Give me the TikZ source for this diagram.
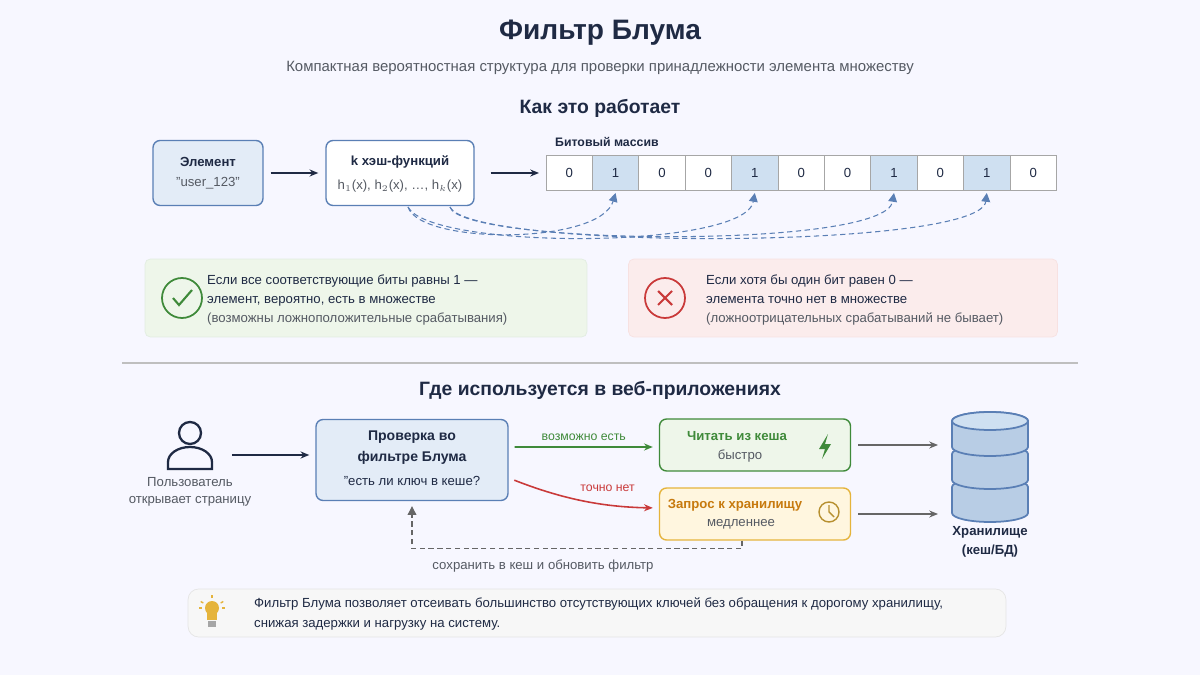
\documentclass[tikz,border=0pt]{standalone}
\usepackage{fontspec}
\setmainfont{Liberation Sans}
\usetikzlibrary{calc,positioning,arrows.meta}
\definecolor{navy}{HTML}{1F2A44}
\definecolor{boxblue}{HTML}{E3ECF7}
\definecolor{edgeblue}{HTML}{5A7FB5}
\definecolor{bitblue}{HTML}{CFE0F1}
\definecolor{okgreen}{HTML}{3F8A3A}
\definecolor{okfill}{HTML}{EEF6EA}
\definecolor{badred}{HTML}{C93A3A}
\definecolor{badfill}{HTML}{FBECEC}
\definecolor{warnfill}{HTML}{FFF6DF}
\definecolor{warnedge}{HTML}{E5B43C}
\definecolor{warntext}{HTML}{C77A0E}
\definecolor{txtgray}{HTML}{555A63}
\tikzset{
  box/.style={draw=edgeblue,rounded corners=4pt,line width=0.8pt,align=center,text=navy},
  txt/.style={font=\fontsize{7.5}{9}\selectfont,text=navy},
  head/.style={font=\bfseries\fontsize{11}{13}\selectfont,text=navy},
  flow/.style={-{Stealth[length=5pt,width=4pt]},line width=0.9pt},
  hashline/.style={densely dashed,edgeblue,line width=0.6pt,-{Triangle[length=5pt,width=5pt]}},
}
\begin{document}
\begin{tikzpicture}[x=0.02cm,y=-0.02cm]
\fill[white!97!blue] (0,0) rectangle (1200,675);

% Titles
\node[font=\bfseries\fontsize{16}{18}\selectfont,text=navy] (title) at (600,33) {Фильтр Блума};
\node[font=\fontsize{8.5}{10}\selectfont,text=txtgray] (subtitle) at (600,68) {Компактная вероятностная структура для проверки принадлежности элемента множеству};
\node[head] (how) at (600,108) {Как это работает};

% Element and hash functions
\node[box,fill=boxblue,minimum width=2.2cm,minimum height=1.3cm] (elem) at (208,173) {};
\node[txt,font=\bfseries\fontsize{7.5}{9}\selectfont] at (208,162) {Элемент};
\node[txt,text=txtgray] at (208,183) {"user\_123"};
\node[box,fill=white,minimum width=2.96cm,minimum height=1.3cm] (hash) at (400,173) {};
\node[txt,font=\bfseries\fontsize{7.5}{9}\selectfont] at (400,162) {k хэш-функций};
\node[txt,text=txtgray] at (400,186) {h$_1$(x), h$_2$(x), \dots, h$_k$(x)};
\draw[flow,navy,shorten <=0.14cm,shorten >=0.14cm] (elem) -- (hash);

% Bit array
\node[txt,font=\bfseries\fontsize{7}{9}\selectfont,anchor=west] (bitlabel) at (549,142) {Битовый массив};
\foreach \b [count=\i from 0] in {0,1,0,0,1,0,0,1,0,1,0} {
  \ifnum\b=1 \def\bf{bitblue}\else\def\bf{white}\fi
  \node[draw=gray!70,fill=\bf,minimum width=0.928cm,minimum height=0.7cm,inner sep=0,txt,outer sep=0]
    (bit\i) at ({546+46.4*(\i+0.5)},173) {\b};
}
\draw[flow,navy,shorten <=0.32cm,shorten >=0.14cm] (hash) -- (bit0.west);
\coordinate (hA) at (408,207);
\coordinate (hB) at (450,207);
\draw[hashline] (hA) .. controls (420,245) and (600,245) .. ([yshift=-0.05cm]bit1.south);
\draw[hashline] (hA) .. controls (430,250) and (745,250) .. ([yshift=-0.05cm]bit4.south);
\draw[hashline] (hB) .. controls (460,245) and (885,250) .. ([yshift=-0.05cm]bit7.south);
\draw[hashline] (hB) .. controls (470,250) and (980,250) .. ([yshift=-0.05cm]bit9.south);

% Outcome panels
\node[fill=okfill,draw=okgreen!15,rounded corners=3pt,minimum width=8.84cm,minimum height=1.56cm] (yes) at (366,298) {};
\node[circle,draw=okgreen,line width=1pt,minimum size=0.8cm] (yesicon) at (182,298) {};
\draw[okgreen,line width=1.2pt] (173,298) -- (179,305) -- (192,290);
\node[txt,anchor=west,align=left] at (201,300) {Если все соответствующие биты равны 1 —\\[2pt]элемент, вероятно, есть в множестве\\[2pt]{\color{txtgray}(возможны ложноположительные срабатывания)}};
\node[fill=badfill,draw=badred!15,rounded corners=3pt,minimum width=8.58cm,minimum height=1.56cm] (no) at (843,298) {};
\node[circle,draw=badred,line width=1pt,minimum size=0.8cm] (noicon) at (665,298) {};
\draw[badred,line width=1.2pt] (658,291) -- (672,305) (672,291) -- (658,305);
\node[txt,anchor=west,align=left] at (700,300) {Если хотя бы один бит равен 0 —\\[2pt]элемента точно нет в множестве\\[2pt]{\color{txtgray}(ложноотрицательных срабатываний не бывает)}};

% Separator
\draw[gray!50,line width=0.6pt] (122,363) -- (1078,363);
\node[head] (where) at (600,390) {Где используется в веб-приложениях};

% User
\coordinate (user) at (190,455);
\draw[navy,line width=1.3pt] (190,433) circle (11);
\draw[navy,line width=1.3pt] (168,469) -- (168,462) arc (180:360:22 and 15) -- (212,469) -- cycle;
\node[txt,text=txtgray,align=center] (userlabel) at (190,492) {Пользователь\\[1pt]открывает страницу};

% Check box
\node[box,fill=boxblue,minimum width=3.84cm,minimum height=1.62cm] (check) at (412,460) {};
\node[txt,font=\bfseries\fontsize{8}{10}\selectfont,align=center] at (412,448) {Проверка во\\[2pt]фильтре Блума};
\node[txt] at (412,481) {"есть ли ключ в кеше?};
\draw[flow,navy,shorten >=0.12cm] ([xshift=0.84cm]user) -- (check.west |- user);

% Cache and storage
\node[box,draw=okgreen,fill=okfill,minimum width=3.82cm,minimum height=1.04cm] (cache) at (755,445) {};
\node[txt,font=\bfseries\fontsize{7.5}{9}\selectfont,text=okgreen] at (737,436) {Читать из кеша};
\node[txt,text=txtgray] at (740,456) {быстро};
\fill[okgreen] (828,434) -- (819,449) -- (825,449) -- (822,459) -- (831,444) -- (825,444) -- cycle;
\node[box,draw=warnedge,fill=warnfill,minimum width=3.82cm,minimum height=1.04cm] (store) at (755,514) {};
\node[txt,font=\bfseries\fontsize{7.5}{9}\selectfont,text=warntext] at (735,505) {Запрос к хранилищу};
\node[txt,text=txtgray] at (741,524) {медленнее};
\draw[warnedge!80!black,line width=0.8pt] (829,512) circle (10);
\draw[warnedge!80!black,line width=0.8pt] (829,505) -- (829,512) -- (834,517);

\draw[flow,okgreen,shorten <=0.12cm,shorten >=0.12cm] ([yshift=0.26cm]check.east) -- node[above,txt,text=okgreen,font=\fontsize{7}{9}\selectfont] {возможно есть} ([yshift=-0.04cm]cache.west);
\draw[flow,badred,shorten <=0.12cm,shorten >=0.12cm] ([yshift=-0.36cm]check.east) .. controls (560,498) and (600,507) .. node[above right=-1pt and 4pt,pos=0.4,txt,text=badred,font=\fontsize{7}{9}\selectfont] {точно нет} ([yshift=0.12cm]store.west);

% Database
\node (db) at (990,467) {};
\begin{scope}[fill=bitblue!80!edgeblue,draw=edgeblue,line width=1pt]
\foreach \t in {487,454,421} {
  \filldraw (952,\t) -- (952,\t+26) arc (180:0:38 and 9) -- (1028,\t) arc (360:180:38 and 9) -- cycle;
}
\filldraw[fill=bitblue] (990,421) ellipse (38 and 9);
\end{scope}
\node[txt,font=\bfseries\fontsize{7.5}{9}\selectfont,align=center] (dblabel) at (990,542) {Хранилище\\[2pt](кеш/БД)};
\draw[flow,gray!80!black,shorten <=0.14cm] (cache.east) -- (cache.east -| 938,0);
\draw[flow,gray!80!black,shorten <=0.14cm] (store.east) -- (store.east -| 938,0);

% Feedback
\draw[densely dashed,gray!80!black,line width=0.6pt,-{Triangle[length=5pt,width=5pt]}]
  ([xshift=-0.26cm]store.south) -- ++(0,8) -| ([yshift=-0.1cm]check.south);
\node[txt,text=txtgray] (savelabel) at (543,566) {сохранить в кеш и обновить фильтр};

% Note
\node[fill=gray!6,draw=gray!20,rounded corners=6pt,minimum width=16.36cm,minimum height=0.96cm] (note) at (597,613) {};
\fill[warnedge] (212,608) circle (7);
\fill[warnedge] (207,612) rectangle (217,620);
\fill[gray!70] (208,621) rectangle (216,627);
\foreach \a in {90,30,150,0,180} \draw[warnedge,line width=0.8pt] ($(212,608)+(\a:-10)$) -- ($(212,608)+(\a:-13)$);
\node[txt,anchor=west,align=left] at (248,614) {Фильтр Блума позволяет отсеивать большинство отсутствующих ключей без обращения к дорогому хранилищу,\\[2pt]снижая задержки и нагрузку на систему.};
\end{tikzpicture}
\end{document}
